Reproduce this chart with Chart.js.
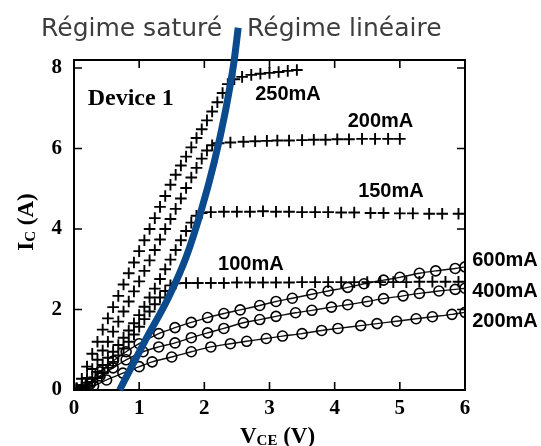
<!DOCTYPE html>
<html>
<head>
<meta charset="utf-8">
<script src="https://cdn.jsdelivr.net/npm/chart.js@4.4.0/dist/chart.umd.min.js"></script>
<style>
  html, body { margin: 0; padding: 0; background: #fff; }
  #wrap { width: 541px; height: 446px; }
</style>
</head>
<body>
<div id="wrap"><canvas id="ivChart" width="541" height="446"></canvas></div>
<script>
// ticks
const xTicks = [0, 1, 2, 3, 4, 5, 6];
const yTicks = [0, 2, 4, 6, 8];

// courbes à + (courant de base 250/200/150/100 mA)
const vce250 = [0.04, 0.12, 0.2, 0.28, 0.36, 0.44, 0.52, 0.6, 0.68, 0.76, 0.84, 0.92, 1.0, 1.08, 1.16, 1.24, 1.32, 1.4, 1.48, 1.56, 1.64, 1.72, 1.8, 1.88, 1.96, 2.04, 2.12, 2.2, 2.28, 2.36, 2.46, 2.58, 2.72, 2.86, 3.0, 3.14, 3.28, 3.42];
const ic250 = [0.05, 0.28, 0.58, 0.9, 1.2, 1.5, 1.78, 2.06, 2.34, 2.62, 2.9, 3.17, 3.45, 3.72, 4.0, 4.27, 4.55, 4.82, 5.1, 5.35, 5.58, 5.8, 6.03, 6.26, 6.48, 6.7, 6.92, 7.15, 7.38, 7.6, 7.72, 7.78, 7.83, 7.86, 7.88, 7.9, 7.93, 7.95];

const vce200 = [0.04, 0.12, 0.2, 0.28, 0.36, 0.44, 0.52, 0.6, 0.68, 0.76, 0.84, 0.92, 1.0, 1.08, 1.16, 1.24, 1.32, 1.4, 1.48, 1.56, 1.64, 1.72, 1.8, 1.88, 1.96, 2.04, 2.12, 2.22, 2.4, 2.6, 2.78, 2.96, 3.12, 3.3, 3.5, 3.68, 3.86, 4.04, 4.22, 4.42, 4.62, 4.82, 5.0];
const ic200 = [0.03, 0.12, 0.3, 0.52, 0.75, 0.98, 1.2, 1.45, 1.7, 1.95, 2.2, 2.45, 2.7, 2.96, 3.22, 3.48, 3.74, 4.0, 4.25, 4.5, 4.76, 5.02, 5.28, 5.52, 5.75, 5.95, 6.08, 6.13, 6.15, 6.17, 6.18, 6.19, 6.2, 6.2, 6.21, 6.22, 6.22, 6.23, 6.23, 6.24, 6.24, 6.24, 6.24];

const vce150 = [0.04, 0.12, 0.2, 0.28, 0.36, 0.44, 0.52, 0.6, 0.68, 0.76, 0.84, 0.92, 1.0, 1.08, 1.16, 1.24, 1.32, 1.4, 1.48, 1.56, 1.64, 1.72, 1.8, 1.88, 1.96, 2.1, 2.3, 2.5, 2.7, 2.9, 3.1, 3.3, 3.5, 3.7, 3.9, 4.1, 4.3, 4.55, 4.75, 5.0, 5.2, 5.45, 5.65, 5.9];
const ic150 = [0.02, 0.08, 0.18, 0.3, 0.45, 0.62, 0.8, 0.95, 1.12, 1.3, 1.48, 1.66, 1.86, 2.07, 2.3, 2.52, 2.76, 3.0, 3.24, 3.48, 3.72, 3.95, 4.16, 4.33, 4.4, 4.42, 4.43, 4.43, 4.43, 4.44, 4.43, 4.43, 4.42, 4.42, 4.42, 4.41, 4.41, 4.4, 4.4, 4.39, 4.39, 4.38, 4.38, 4.38];

const vce100 = [0.04, 0.12, 0.2, 0.28, 0.36, 0.44, 0.52, 0.6, 0.68, 0.76, 0.84, 0.92, 1.0, 1.08, 1.16, 1.24, 1.32, 1.4, 1.48, 1.56, 1.72, 1.9, 2.1, 2.3, 2.5, 2.7, 2.9, 3.1, 3.3, 3.5, 3.7, 3.9, 4.1, 4.3, 4.5, 4.7, 4.9, 5.1, 5.3, 5.5, 5.7, 5.9];
const ic100 = [0.01, 0.05, 0.12, 0.2, 0.3, 0.42, 0.55, 0.7, 0.86, 1.03, 1.2, 1.38, 1.57, 1.76, 1.95, 2.13, 2.3, 2.46, 2.6, 2.65, 2.66, 2.66, 2.66, 2.66, 2.67, 2.67, 2.67, 2.67, 2.67, 2.68, 2.68, 2.68, 2.68, 2.68, 2.68, 2.68, 2.68, 2.68, 2.69, 2.69, 2.69, 2.69];

// courbes à o (600/400/200 mA)
const vce600 = [0.1, 0.25, 0.4, 0.6, 0.8, 1.0, 1.3, 1.55, 1.8, 2.05, 2.3, 2.55, 2.85, 3.1, 3.35, 3.65, 3.9, 4.2, 4.45, 4.75, 5.0, 5.3, 5.55, 5.85, 6.0];
const ic600 = [0.0, 0.2, 0.45, 0.72, 0.95, 1.15, 1.4, 1.55, 1.68, 1.8, 1.9, 1.99, 2.1, 2.2, 2.28, 2.38, 2.46, 2.55, 2.64, 2.73, 2.8, 2.9, 2.96, 3.02, 3.06];

const vce400 = [0.1, 0.25, 0.4, 0.6, 0.8, 1.06, 1.3, 1.55, 1.8, 2.05, 2.3, 2.6, 2.85, 3.1, 3.4, 3.65, 3.95, 4.2, 4.5, 4.75, 5.05, 5.3, 5.6, 5.85, 6.0];
const ic400 = [0.0, 0.15, 0.35, 0.55, 0.75, 0.95, 1.07, 1.17, 1.3, 1.42, 1.53, 1.67, 1.75, 1.83, 1.92, 1.98, 2.06, 2.12, 2.2, 2.27, 2.34, 2.4, 2.46, 2.5, 2.53];

const vce200o = [0.1, 0.3, 0.5, 0.75, 1.0, 1.2, 1.5, 1.8, 2.1, 2.4, 2.65, 2.95, 3.2, 3.5, 3.8, 4.05, 4.4, 4.65, 4.95, 5.25, 5.5, 5.8, 6.0];
const ic200o = [0.0, 0.1, 0.25, 0.42, 0.58, 0.7, 0.82, 0.95, 1.07, 1.15, 1.21, 1.28, 1.34, 1.4, 1.48, 1.53, 1.6, 1.65, 1.71, 1.77, 1.82, 1.88, 1.93];

// limite saturé / linéaire (trait bleu)
const vceLim = [0.7, 1.1, 1.45, 1.72, 1.95, 2.15, 2.32, 2.45, 2.52];
const icLim = [0.0, 1.25, 2.3, 3.3, 4.45, 5.65, 6.9, 8.1, 9.0];

// étiquettes des courbes (coin gauche, ligne de base)
const curveLabels = ['250mA', '200mA', '150mA', '100mA', '600mA', '400mA', '200mA'];
const labelVce = [2.78, 4.2, 4.36, 2.21, 6.11, 6.11, 6.11];
const labelIc = [7.2, 6.53, 4.8, 2.98, 3.08, 2.31, 1.57];

function pts(xs, ys) {
  return xs.map((x, i) => ({ x: x, y: ys[i] }));
}

function crossSet(xs, ys) {
  return {
    data: pts(xs, ys),
    showLine: false,
    pointStyle: 'cross',
    pointRadius: 5.8,
    pointBorderWidth: 1.9,
    pointBorderColor: '#000',
    borderColor: '#000'
  };
}

function circleSet(xs, ys) {
  return {
    data: pts(xs, ys),
    showLine: true,
    borderColor: '#111',
    borderWidth: 1.4,
    tension: 0.3,
    pointStyle: 'circle',
    pointRadius: 5,
    pointBorderWidth: 1.6,
    pointBorderColor: '#000',
    pointBackgroundColor: 'rgba(0,0,0,0)'
  };
}

// cadre, graduations vers l'intérieur, textes
const decorPlugin = {
  id: 'decor',
  beforeDatasetsDraw(chart) {
    const ctx = chart.ctx;
    const a = chart.chartArea;
    const xs = chart.scales.x;
    const ys = chart.scales.y;
    ctx.save();
    ctx.strokeStyle = '#000';
    ctx.lineWidth = 2;
    ctx.strokeRect(a.left, a.top, a.right - a.left, a.bottom - a.top);

    ctx.lineWidth = 1.6;
    ctx.beginPath();
    xTicks.forEach(v => {
      if (v <= xs.min || v >= xs.max) return;
      const px = xs.getPixelForValue(v);
      ctx.moveTo(px, a.bottom); ctx.lineTo(px, a.bottom - 8);
      ctx.moveTo(px, a.top); ctx.lineTo(px, a.top + 8);
    });
    yTicks.forEach(v => {
      if (v <= ys.min || v >= ys.max) return;
      const py = ys.getPixelForValue(v);
      ctx.moveTo(a.left, py); ctx.lineTo(a.left + 8, py);
      ctx.moveTo(a.right, py); ctx.lineTo(a.right - 8, py);
    });
    ctx.stroke();

    // titres en haut
    ctx.fillStyle = '#3d3d3d';
    ctx.font = '25px "DejaVu Sans"';
    ctx.textAlign = 'left';
    ctx.textBaseline = 'alphabetic';
    ctx.fillText('Régime saturé', 41, 36);
    ctx.fillText('Régime linéaire', 247, 36);

    // Device 1
    ctx.fillStyle = '#000';
    ctx.font = 'bold 24px "Liberation Serif"';
    ctx.fillText('Device 1', xs.getPixelForValue(0.21), ys.getPixelForValue(7.08));

    // étiquettes des courbes
    ctx.font = 'bold 20px "Liberation Sans"';
    curveLabels.forEach((t, i) => {
      ctx.fillText(t, xs.getPixelForValue(labelVce[i]), ys.getPixelForValue(labelIc[i]));
    });

    // titres des axes
    drawSub(ctx, [['V', 23, 0], ['CE', 15, 2], [' (V)', 23, 0]], (a.left + a.right) / 2 + 8, 443);
    ctx.save();
    ctx.translate(33, (a.top + a.bottom) / 2 - 3);
    ctx.rotate(-Math.PI / 2);
    drawSub(ctx, [['I', 23, 0], ['C', 15, 2], [' (A)', 23, 0]], 0, 0);
    ctx.restore();
    ctx.restore();
  }
};

function drawSub(ctx, parts, cx, base) {
  let total = 0;
  parts.forEach(p => {
    ctx.font = 'bold ' + p[1] + 'px "Liberation Serif"';
    total += ctx.measureText(p[0]).width;
  });
  let x = cx - total / 2;
  ctx.textAlign = 'left';
  ctx.textBaseline = 'alphabetic';
  ctx.fillStyle = '#000';
  parts.forEach(p => {
    ctx.font = 'bold ' + p[1] + 'px "Liberation Serif"';
    ctx.fillText(p[0], x, base + p[2]);
    x += ctx.measureText(p[0]).width;
  });
}

const ctx = document.getElementById('ivChart').getContext('2d');
new Chart(ctx, {
  type: 'scatter',
  data: {
    datasets: [
      {
        data: pts(vceLim, icLim),
        showLine: true,
        borderColor: '#0b4a8d',
        borderWidth: 7,
        cubicInterpolationMode: 'monotone',
        pointRadius: 0,
        clip: false,
        order: -1
      },
      crossSet(vce250, ic250),
      crossSet(vce200, ic200),
      crossSet(vce150, ic150),
      crossSet(vce100, ic100),
      circleSet(vce600, ic600),
      circleSet(vce400, ic400),
      circleSet(vce200o, ic200o)
    ]
  },
  options: {
    responsive: false,
    animation: false,
    devicePixelRatio: 1,
    layout: { padding: { top: 60, right: 76, left: 0, bottom: 0 } },
    plugins: {
      legend: { display: false },
      tooltip: { enabled: false }
    },
    scales: {
      x: {
        type: 'linear',
        min: 0,
        max: 6,
        afterBuildTicks: s => { s.ticks = xTicks.map(v => ({ value: v })); },
        afterFit: s => { s.height = 56; },
        grid: { display: false, drawTicks: false },
        border: { display: false },
        ticks: {
          color: '#000',
          padding: 6,
          font: { family: 'Liberation Serif', size: 21, weight: 'bold' }
        }
      },
      y: {
        type: 'linear',
        min: 0,
        max: 8.2,
        afterBuildTicks: s => { s.ticks = yTicks.map(v => ({ value: v })); },
        afterFit: s => { s.width = 74; },
        grid: { display: false, drawTicks: false },
        border: { display: false },
        ticks: {
          color: '#000',
          padding: 12,
          font: { family: 'Liberation Serif', size: 21, weight: 'bold' }
        }
      }
    }
  },
  plugins: [decorPlugin]
});
</script>
</body>
</html>
